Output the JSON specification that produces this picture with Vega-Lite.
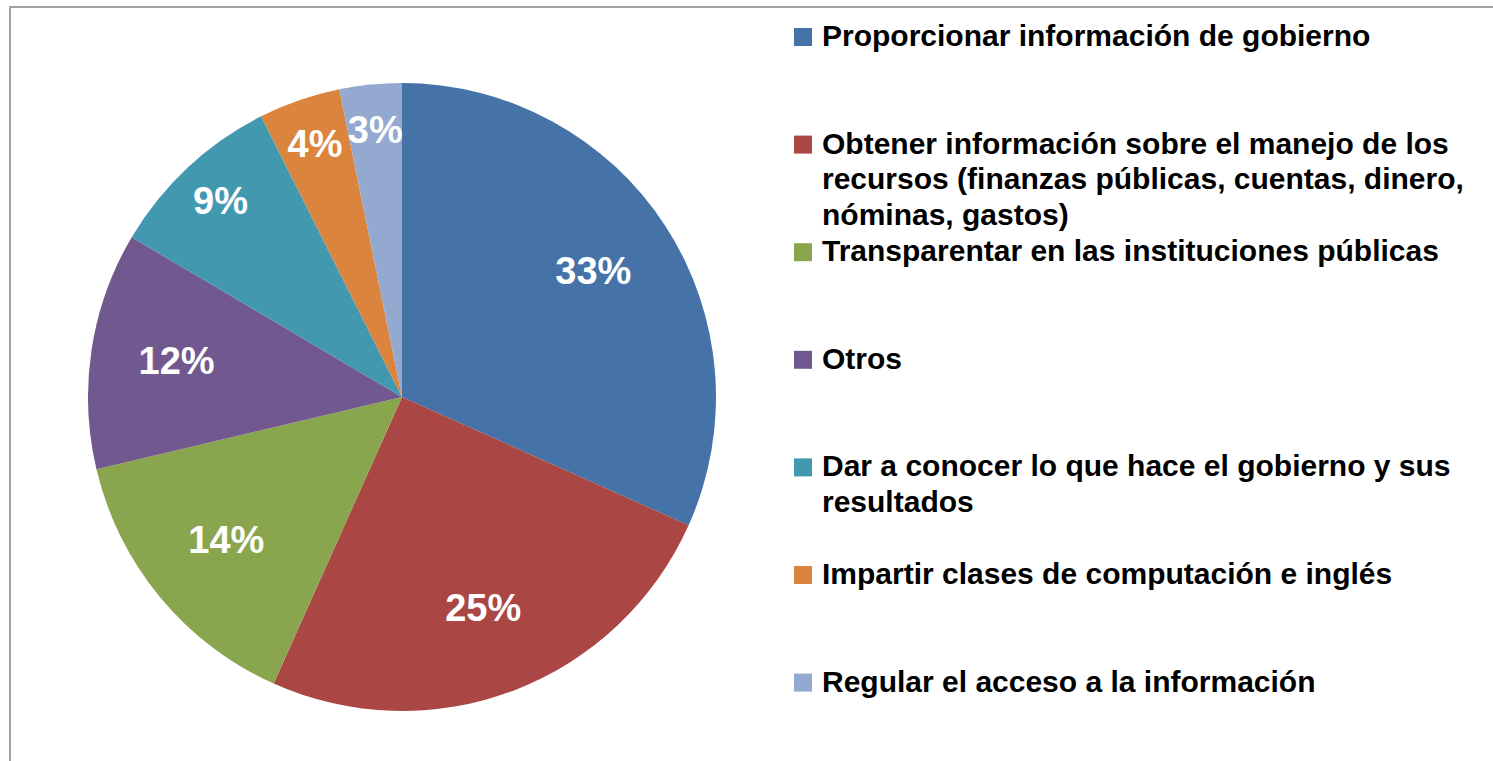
{
  "$schema": "https://vega.github.io/schema/vega-lite/v6.json",
  "width": 1493,
  "height": 761,
  "autosize": {"type": "fit", "contains": "padding"},
  "padding": {"left": 10, "top": 7, "right": -4, "bottom": -4},
  "background": "white",
  "view": {"stroke": "#a0a0a0", "strokeWidth": 2, "fill": null},
  "config": {
    "view": {"stroke": "#a0a0a0", "strokeWidth": 2},
    "style": {"guide-label": {"lineHeight": 35.5}}
  },
  "data": {
    "values": [
      {"order": 1, "cat": "Proporcionar información de gobierno", "value": 31.7, "label": "33%"},
      {"order": 2, "cat": "Obtener información sobre el manejo de los recursos (finanzas públicas, cuentas, dinero, nóminas, gastos)", "value": 25.0, "label": "25%"},
      {"order": 3, "cat": "Transparentar en las instituciones públicas", "value": 14.6, "label": "14%"},
      {"order": 4, "cat": "Otros", "value": 12.2, "label": "12%"},
      {"order": 5, "cat": "Dar a conocer lo que hace el gobierno y sus resultados", "value": 9.1, "label": "9%"},
      {"order": 6, "cat": "Impartir clases de computación e inglés", "value": 4.2, "label": "4%"},
      {"order": 7, "cat": "Regular el acceso a la información", "value": 3.2, "label": "3%"}
    ]
  },
  "encoding": {
    "theta": {"field": "value", "type": "quantitative", "stack": true},
    "order": {"field": "order", "type": "quantitative"}
  },
  "layer": [
    {
      "mark": {"type": "arc", "outerRadius": 314, "x": 392, "y": 390},
      "encoding": {
        "color": {
          "field": "cat",
          "type": "nominal",
          "sort": null,
          "scale": {
            "domain": [
              "Proporcionar información de gobierno",
              "Obtener información sobre el manejo de los recursos (finanzas públicas, cuentas, dinero, nóminas, gastos)",
              "Transparentar en las instituciones públicas",
              "Otros",
              "Dar a conocer lo que hace el gobierno y sus resultados",
              "Impartir clases de computación e inglés",
              "Regular el acceso a la información"
            ],
            "range": ["#4572A7", "#AA4643", "#89A54E", "#71588F", "#4198AF", "#DB843D", "#93A9CF"]
          },
          "legend": {
            "orient": "none",
            "legendX": 778,
            "legendY": 15,
            "title": null,
            "padding": 0,
            "symbolType": "square",
            "symbolSize": 324,
            "symbolStrokeWidth": 0,
            "symbolOpacity": 1,
            "labelFont": "Liberation Sans",
            "labelFontSize": 30,
            "labelFontWeight": "bold",
            "labelColor": "#000000",
            "labelLimit": 0,
            "labelOffset": 4,
            "labelBaseline": "middle",
            "rowPadding": 6.6,
            "labelExpr": "datum.label == 'Obtener información sobre el manejo de los recursos (finanzas públicas, cuentas, dinero, nóminas, gastos)' ? ['Obtener información sobre el manejo de los', 'recursos (finanzas públicas, cuentas, dinero,', 'nóminas, gastos)'] : datum.label == 'Dar a conocer lo que hace el gobierno y sus resultados' ? ['Dar a conocer lo que hace el gobierno y sus', 'resultados', ''] : [datum.label, '', '']"
          }
        }
      }
    },
    {
      "mark": {"type": "text", "radius": 228, "x": 392, "y": 390, "font": "Liberation Sans", "fontSize": 38, "fontWeight": "bold", "fill": "#ffffff", "align": "center", "baseline": "middle"},
      "encoding": {
        "text": {"condition": {"test": "datum.value >= 10", "field": "label"}, "value": ""}
      }
    },
    {
      "mark": {"type": "text", "radius": 266, "x": 392, "y": 390, "font": "Liberation Sans", "fontSize": 38, "fontWeight": "bold", "fill": "#ffffff", "align": "center", "baseline": "middle"},
      "encoding": {
        "text": {"condition": {"test": "datum.value < 10", "field": "label"}, "value": ""}
      }
    }
  ]
}
